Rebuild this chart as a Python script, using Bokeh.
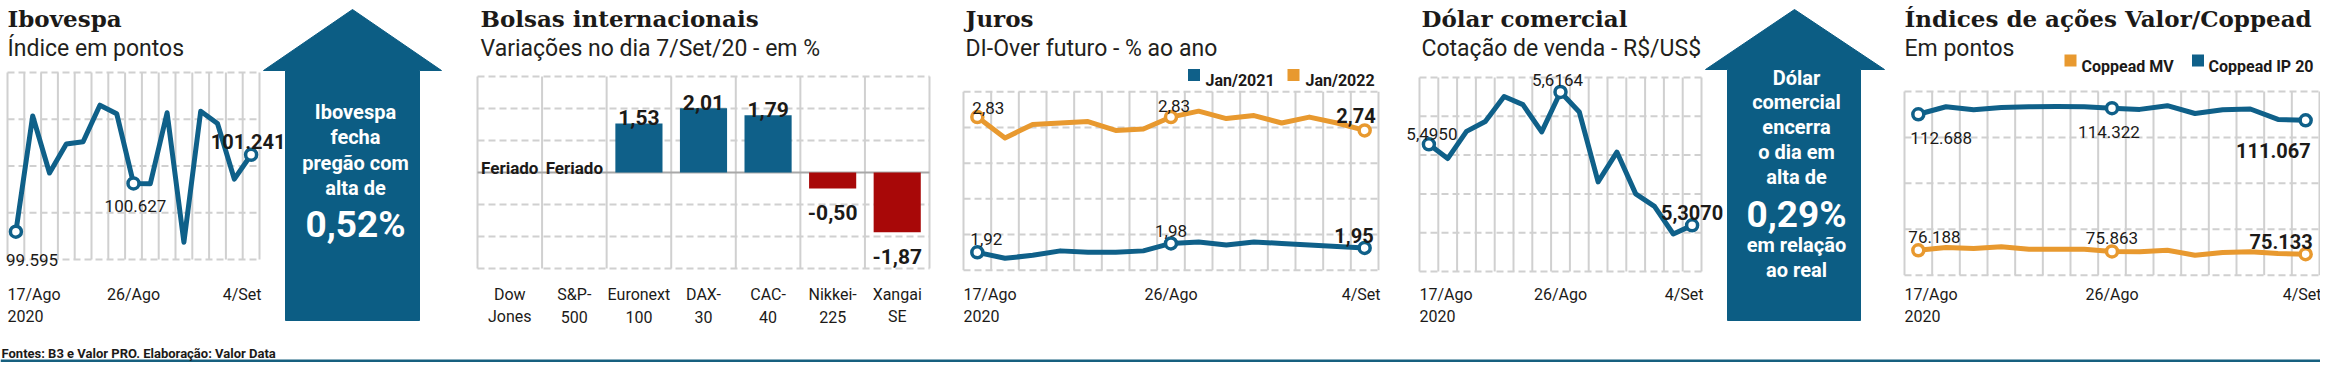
from bokeh.plotting import figure
from bokeh.models import Range1d
from bokeh.core.properties import value
from bokeh.embed import file_html
from bokeh.resources import INLINE

# ---------------- data ----------------
days = ["17/Ago", "18/Ago", "19/Ago", "20/Ago", "21/Ago", "24/Ago", "25/Ago", "26/Ago",
        "27/Ago", "28/Ago", "31/Ago", "1/Set", "2/Set", "3/Set", "4/Set"]
year_label = "2020"

ibovespa = [99595, 102070, 100850, 101470, 101520, 102300, 102120, 100627,
            100620, 102140, 99370, 102170, 101910, 100720, 101241]

bolsas_line1 = ["Dow", "S&P-", "Euronext", "DAX-", "CAC-", "Nikkei-", "Xangai"]
bolsas_line2 = ["Jones", "500", "100", "30", "40", "225", "SE"]
bolsas_var = [None, None, 1.53, 2.01, 1.79, -0.50, -1.87]
holiday_text = "Feriado"

juros_jan2021 = [1.92, 1.88, 1.90, 1.93, 1.92, 1.92, 1.93, 1.98,
                 1.99, 1.97, 1.99, 1.98, 1.97, 1.96, 1.95]
juros_jan2022 = [2.83, 2.69, 2.78, 2.79, 2.80, 2.74, 2.75, 2.83,
                 2.87, 2.82, 2.84, 2.79, 2.83, 2.79, 2.74]

dolar = [5.4950, 5.462, 5.525, 5.548, 5.606, 5.587, 5.524, 5.6164,
         5.570, 5.408, 5.477, 5.380, 5.351, 5.287, 5.3070]

coppead_ip20 = [112688, 114700, 113900, 114500, 114700, 114750, 114700, 114322,
                114000, 115000, 112900, 113900, 114100, 111300, 111067]
coppead_mv = [76188, 76930, 76670, 77120, 76480, 76480, 76480, 75863,
              75780, 76210, 74870, 75590, 75780, 75320, 75133]

titles = ["Ibovespa", "Bolsas internacionais", "Juros", "Dólar comercial",
          "Índices de ações Valor/Coppead"]
subtitles = ["Índice em pontos", "Variações no dia 7/Set/20 - em %",
             "DI-Over futuro - % ao ano", "Cotação de venda - R$/US$", "Em pontos"]
legend_juros = ["Jan/2021", "Jan/2022"]
legend_coppead = ["Coppead MV", "Coppead IP 20"]
arrow1_lines = ["Ibovespa", "fecha", "pregão com", "alta de"]
arrow1_big = "0,52%"
arrow2_lines = ["Dólar", "comercial", "encerra", "o dia em", "alta de"]
arrow2_big = "0,29%"
arrow2_tail = ["em relação", "ao real"]
footer = "Fontes: B3 e Valor PRO. Elaboração: Valor Data"

# ---------------- style ----------------
W, H = 2320, 362
BLUE = "#0f6089"
ARROW = "#0c5d84"
ORANGE = "#e8992f"
RED = "#a80808"
GRID = "#d0d0d0"
ZERO = "#a8a8a8"
INK = "#1c1a18"
SANS = value("Roboto")
SERIF = value("DejaVu Serif")


def pts(v):
    return f"{v:,.0f}".replace(",", ".")


def dec(v, n):
    return f"{v:.{n}f}".replace(".", ",")


p = figure(width=W, height=H, x_range=Range1d(0, W), y_range=Range1d(H, 0),
           x_axis_type=None, y_axis_type=None, output_backend="svg",
           toolbar_location=None, min_border=0, outline_line_color=None)
p.background_fill_color = "white"
p.border_fill_color = "white"

unit_per_px = {}


def add_x(name, v0, px0, v1, px1):
    s = (px1 - px0) / (v1 - v0)
    start = v0 - px0 / s
    p.extra_x_ranges[name] = Range1d(start, start + W / s)


def add_y(name, v0, py0, v1, py1):
    q0, q1 = H - py0, H - py1
    s = (q1 - q0) / (v1 - v0)
    start = v0 - q0 / s
    p.extra_y_ranges[name] = Range1d(start, start + H / s)
    unit_per_px[name] = 1.0 / s


# ---------------- titles ----------------
title_x = [7, 480, 965, 1421, 1904]
p.text(x=title_x, y=[18] * 5, text=titles, text_font=SERIF, text_font_style="bold",
       text_font_size="23px", text_color=INK, text_baseline="alphabetic")
p.text(x=title_x, y=[48] * 5, text=subtitles, text_font=SANS,
       text_font_size="23px", text_color="#231f1c", text_baseline="alphabetic")


def grid(key, ncols, vmin, vmax, nh, zero=None):
    kw = dict(x_range_name=key + "x", y_range_name=key + "y")
    xs = [i - 0.5 for i in range(ncols + 1)]
    p.segment(x0=xs, x1=xs, y0=[vmin] * len(xs), y1=[vmax] * len(xs),
              line_color=GRID, line_width=2, **kw)
    step = (vmax - vmin) / (nh - 1)
    hs = [vmin + k * step for k in range(nh)]
    if zero is not None:
        hs = [h for h in hs if abs(h - zero) > 1e-9]
    p.segment(x0=[-0.5] * len(hs), x1=[ncols - 0.5] * len(hs), y0=hs, y1=hs,
              line_color=GRID, line_width=2, line_dash="7 4", **kw)
    if zero is not None:
        p.segment(x0=[-0.5], x1=[ncols - 0.5], y0=[zero], y1=[zero],
                  line_color=ZERO, line_width=2, **kw)


def date_labels(key):
    n = len(days)
    kw = dict(x_range_name=key + "x", text_font=SANS, text_font_size="16px",
              text_color=INK, text_baseline="alphabetic")
    p.text(x=[-0.5], y=[294], text=[days[0]], text_align="left", **kw)
    p.text(x=[-0.5], y=[315], text=[year_label], text_align="left", **kw)
    p.text(x=[7], y=[294], text=[days[7]], text_align="center", **kw)
    p.text(x=[n - 0.5], y=[294], text=[days[-1]], text_align="right", x_offset=2, **kw)


def series(key, vals, color, labels, fmt):
    kw = dict(x_range_name=key + "x", y_range_name=key + "y")
    upp = unit_per_px[key + "y"]
    idx = list(range(len(vals)))
    p.line(x=idx, y=vals, line_color=color, line_width=5, line_join="round",
           line_cap="round", **kw)
    hi = [0, 7, len(vals) - 1]
    p.scatter(x=hi, y=[vals[i] for i in hi], size=11, fill_color="white",
              line_color=color, line_width=3.5, **kw)
    for i, (align, dx, dy, bold) in zip(hi, labels):
        # dy: label baseline distance below (+) / above (-) the point, in pixels
        p.text(x=[i], y=[vals[i] - dy * upp], text=[fmt(vals[i])], text_align=align,
               x_offset=dx, text_baseline="alphabetic",
               text_font=SANS, text_font_style="bold" if bold else "normal",
               text_font_size="20px" if bold else "17px",
               text_color=INK, **kw)


n = len(days)

# ---------------- panel 1: Ibovespa ----------------
add_x("ibox", -0.5, 7, n - 0.5, 259)
add_y("iboy", 99000, 259, 103000, 72)
grid("ibo", n, 99000, 103000, 5)
date_labels("ibo")
series("ibo", ibovespa, BLUE,
       [("left", -10, 28, False), ("center", 2, 23, False), ("center", -3, -13, True)], pts)

# arrow 1
p.patch(x=[352, 441, 419, 419, 285, 285, 263], y=[9, 70, 70, 320, 320, 70, 70],
        fill_color=ARROW, line_color=ARROW)
p.text(x=[355] * 4, y=[111, 136, 162, 187], text=arrow1_lines, text_align="center",
       text_baseline="alphabetic", text_font=SANS, text_font_style="bold",
       text_font_size="20px", text_color="white")
p.text(x=[355], y=[224], text=[arrow1_big], text_align="center",
       text_baseline="alphabetic", text_font=SANS, text_font_style="bold",
       text_font_size="37px", text_color="white")

# ---------------- panel 2: Bolsas ----------------
nb = len(bolsas_var)
add_x("bolx", -0.5, 477, nb - 0.5, 929)
add_y("boly", -3, 268, 3, 76)
grid("bol", nb, -3, 3, 7, zero=0)
bk = dict(x_range_name="bolx", y_range_name="boly")
bupp = unit_per_px["boly"]
bx = [i for i, v in enumerate(bolsas_var) if v is not None]
bv = [bolsas_var[i] for i in bx]
bc = [BLUE if v >= 0 else RED for v in bv]
p.vbar(x=bx, top=bv, bottom=0, width=0.73, fill_color=bc, line_color=None, **bk)
for i, v in zip(bx, bv):
    dy = -6 if v >= 0 else 24
    p.text(x=[i], y=[v - dy * bupp], text=[dec(v, 2)], text_align="center",
           text_baseline="alphabetic",
           text_font=SANS, text_font_style="bold", text_font_size="21px",
           text_color=INK, **bk)
hol = [i for i, v in enumerate(bolsas_var) if v is None]
p.text(x=hol, y=[5 * bupp] * len(hol), text=[holiday_text] * len(hol), text_align="center",
       text_baseline="alphabetic", text_font=SANS, text_font_style="bold",
       text_font_size="17px", text_color=INK, **bk)
p.text(x=list(range(nb)), y=[294] * nb, text=bolsas_line1, text_align="center",
       text_baseline="alphabetic", text_font=SANS, text_font_size="16px",
       text_color=INK, x_range_name="bolx")
p.text(x=list(range(nb)), y=[316] * nb, text=bolsas_line2, text_align="center",
       text_baseline="alphabetic", text_font=SANS, text_font_size="16px",
       text_color=INK, x_range_name="bolx")

# ---------------- panel 3: Juros ----------------
add_x("jurx", -0.5, 963, n - 0.5, 1378)
add_y("jury", 1.8, 269.7, 3.0, 91.3)
grid("jur", n, 1.8, 3.0, 6)
date_labels("jur")
series("jur", juros_jan2022, ORANGE,
       [("left", -5, -9, False), ("center", 3, -11, False), ("right", 11, -15, True)],
       lambda v: dec(v, 2))
series("jur", juros_jan2021, BLUE,
       [("left", -7, -13, False), ("center", 0, -12, False), ("right", 9, -12, True)],
       lambda v: dec(v, 2))
p.rect(x=[1193.5, 1293], y=[74.5, 74.5], width=12, height=12,
       fill_color=[BLUE, ORANGE], line_color=None)
p.text(x=[1205, 1305], y=[80, 80], text=legend_juros, text_baseline="alphabetic",
       text_font=SANS, text_font_style="bold", text_font_size="16px", text_color=INK)

# ---------------- panel 4: Dólar ----------------
add_x("dolx", -0.5, 1419, n - 0.5, 1701)
add_y("doly", 5.20, 271, 5.65, 77)
grid("dol", n, 5.20, 5.65, 6)
date_labels("dol")
series("dol", dolar, BLUE,
       [("center", 3, -10, False), ("center", -3, -12, False), ("center", 0, -13, True)],
       lambda v: dec(v, 4))

# arrow 2
p.patch(x=[1794, 1884, 1860, 1860, 1727, 1727, 1705], y=[9, 69, 69, 320, 320, 69, 69],
        fill_color=ARROW, line_color=ARROW)
p.text(x=[1796] * 5, y=[77, 101, 126, 151, 176], text=arrow2_lines, text_align="center",
       text_baseline="alphabetic", text_font=SANS, text_font_style="bold",
       text_font_size="20px", text_color="white")
p.text(x=[1796], y=[214], text=[arrow2_big], text_align="center",
       text_baseline="alphabetic", text_font=SANS, text_font_style="bold",
       text_font_size="37px", text_color="white")
p.text(x=[1796] * 2, y=[244, 269], text=arrow2_tail, text_align="center",
       text_baseline="alphabetic", text_font=SANS, text_font_style="bold",
       text_font_size="20px", text_color="white")

# ---------------- panel 5: Coppead ----------------
add_x("copx", -0.5, 1904, n - 0.5, 2319)
add_y("copy", 69500, 274.7, 118800, 91)
grid("cop", n, 69500, 118800, 5)
date_labels("cop")
series("cop", coppead_ip20, BLUE,
       [("left", -8, 24, False), ("center", -3, 24, False), ("right", 5, 30, True)], pts)
series("cop", coppead_mv, ORANGE,
       [("left", -10, -13, False), ("center", 0, -13, False), ("right", 7, -13, True)], pts)
p.rect(x=[2070, 2197.5], y=[60, 60], width=12, height=12,
       fill_color=[ORANGE, BLUE], line_color=None)
p.text(x=[2081, 2208], y=[66, 66], text=legend_coppead, text_baseline="alphabetic",
       text_font=SANS, text_font_style="bold", text_font_size="16px", text_color=INK)

# ---------------- footer ----------------
p.quad(left=[0], right=[W], top=[359], bottom=[362], fill_color="#17607f", line_color=None)
p.text(x=[1], y=[353], text=[footer], text_baseline="alphabetic", text_font=SANS,
       text_font_style="bold", text_font_size="13px", text_color=INK)

open("out.html", "w").write(file_html(p, INLINE))
